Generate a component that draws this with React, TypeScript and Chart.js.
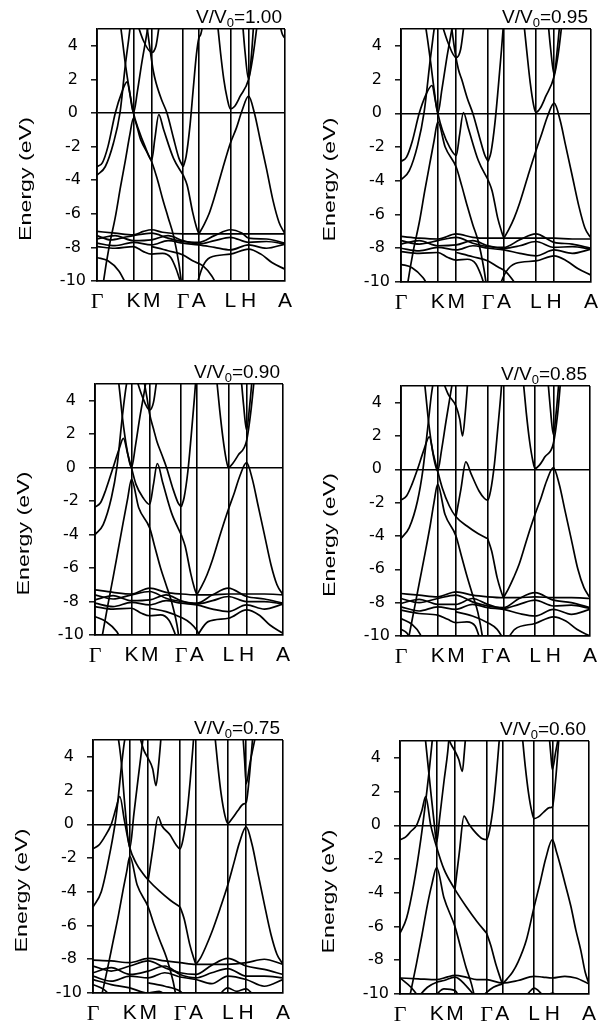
import React, { useEffect, useRef } from 'react';
import { Chart, registerables } from 'chart.js';
Chart.register(...registerables);

const K_POINTS = [0, 0.667, 1.0, 1.577, 1.863, 2.44, 2.773, 3.44];
const K_LABELS = ['Γ', 'K', 'M', 'Γ', 'A', 'L', 'H', 'A'];
const Y_TICKS = [-10, -8, -6, -4, -2, 0, 2, 4];
const RATIOS = ['1.00', '0.95', '0.90', '0.85', '0.75', '0.60'];

// each band: list of [k, E(eV)]
const bands100 = [
  [[0,-3.2],[0.1,-2.95],[0.2,-2.0],[0.335,0],[0.45,1.2],[0.55,1.85],[0.61,1.0],[0.667,0],[0.75,-0.9],[0.88,-2.0],[1.0,-2.8],[1.06,-1.5],[1.13,-0.1],[1.22,-1.0],[1.4,-2.7],[1.577,-3.7]],
  [[0,-3.7],[0.15,-3.2],[0.3,-1.8],[0.42,0],[0.52,2.9],[0.58,4.4],[0.62,5.5]],
  [[0.42,5.5],[0.47,4.2],[0.52,2.9],[0.6,1.2],[0.667,0],[0.74,1.3],[0.82,3.0],[0.9,4.5],[0.95,5.5]],
  [[0.08,-11],[0.12,-10],[0.22,-8.0],[0.335,-6.2],[0.43,-4.4],[0.52,-2.8],[0.6,-1.3],[0.667,-0.3],[0.8,-1.6],[1.0,-2.9],[1.1,-3.9],[1.2,-5.1],[1.3,-6.2],[1.4,-7.3],[1.5,-9.0],[1.56,-10.5]],
  [[0.9,5.5],[0.97,3.8],[1.03,2.5],[1.08,1.8],[1.18,0.8],[1.28,0],[1.4,-1.5],[1.5,-2.7],[1.577,-3.2]],
  [[0.72,5.5],[0.85,4.3],[1.0,3.6],[1.08,4.0],[1.15,5.5]],
  [[1.577,-3.2],[1.63,-2.6],[1.7,-0.8],[1.76,1.4],[1.82,3.5],[1.863,4.45],[1.9,4.7],[1.95,5.5]],
  [[3.33,5.5],[3.39,4.7],[3.44,4.45]],
  [[1.577,-3.7],[1.65,-4.3],[1.75,-5.9],[1.82,-6.8],[1.863,-7.2]],
  [[1.863,-7.2],[1.95,-6.7],[2.05,-6.0],[2.15,-5.0],[2.3,-3.3],[2.44,-1.8],[2.55,-0.9],[2.65,0.1],[2.773,1.0],[2.88,0],[2.98,-1.5],[3.1,-3.3],[3.22,-5.2],[3.33,-6.5],[3.44,-7.2]],
  [[2.2,5.5],[2.26,3.6],[2.32,2.0],[2.38,0.9],[2.44,0.25],[2.52,0.4],[2.62,1.0],[2.773,2.0],[2.85,3.3],[2.94,5.5]],
  [[2.66,5.5],[2.71,3.6],[2.773,2.0],[2.83,3.6],[2.87,5.5]],
  [[0,-7.05],[0.33,-7.15],[0.667,-7.25],[0.85,-7.05],[1.0,-6.95],[1.2,-7.1],[1.577,-7.2],[1.863,-7.2],[2.44,-7.2],[2.773,-7.2],[3.44,-7.2]],
  [[0,-7.3],[0.25,-7.55],[0.5,-7.4],[0.667,-7.3],[1.0,-7.15],[1.3,-7.45],[1.577,-7.65],[1.863,-7.7],[2.15,-7.3],[2.44,-6.95],[2.65,-7.15],[2.773,-7.45],[3.1,-7.5],[3.44,-7.75]],
  [[0,-7.5],[0.33,-7.3],[0.667,-7.6],[1.0,-7.55],[1.3,-7.3],[1.577,-7.6],[1.863,-7.8],[2.15,-7.6],[2.44,-7.4],[2.773,-7.7],[3.1,-7.65],[3.44,-7.8]],
  [[0,-7.75],[0.33,-7.9],[0.667,-7.7],[1.0,-7.85],[1.3,-7.6],[1.577,-7.75],[1.863,-7.85],[2.15,-8.0],[2.44,-8.15],[2.773,-7.85],[3.1,-8.05],[3.44,-7.8]],
  [[0,-7.95],[0.33,-8.05],[0.667,-7.95],[0.85,-8.25],[1.0,-8.4],[1.2,-8.35],[1.35,-8.6],[1.45,-9.3],[1.55,-10.3]],
  [[0,-8.6],[0.2,-8.8],[0.4,-9.4],[0.55,-10.3]],
  [[1.0,-7.95],[1.3,-8.2],[1.577,-8.45],[1.75,-8.8],[1.94,-9.1],[2.1,-9.7],[2.2,-10.3]],
  [[1.8,-10.5],[1.94,-9.1],[2.07,-8.6],[2.44,-8.4],[2.773,-8.1],[3.0,-8.4],[3.2,-8.9],[3.44,-9.3]],
];

const bands095 = [
  [[0,-2.85],[0.1,-2.6],[0.2,-1.7],[0.33,0],[0.45,1.1],[0.56,1.65],[0.62,0.8],[0.667,0],[0.75,-1.0],[0.88,-2.0],[1.0,-2.5],[1.06,-1.3],[1.13,0.05],[1.22,-0.9],[1.4,-2.8],[1.577,-3.95]],
  [[0,-3.95],[0.15,-3.4],[0.3,-1.9],[0.42,0.1],[0.53,3.2],[0.58,4.5],[0.62,5.5]],
  [[0.43,5.5],[0.48,4.4],[0.53,3.2],[0.6,1.4],[0.667,0],[0.74,1.4],[0.82,3.1],[0.9,4.6],[0.95,5.5]],
  [[0.08,-11],[0.12,-10.1],[0.22,-8.2],[0.335,-6.4],[0.43,-4.6],[0.52,-3.0],[0.6,-1.6],[0.667,-0.5],[0.8,-2.0],[1.0,-3.2],[1.1,-4.3],[1.2,-5.5],[1.3,-6.6],[1.4,-7.6],[1.5,-9.2],[1.56,-10.5]],
  [[0.9,5.5],[0.98,3.6],[1.04,2.6],[1.1,2.0],[1.2,0.9],[1.3,0],[1.42,-1.4],[1.52,-2.5],[1.577,-2.85]],
  [[0.72,5.5],[0.85,4.2],[1.0,3.3],[1.08,3.8],[1.15,5.5]],
  [[1.577,-2.85],[1.63,-2.3],[1.7,-0.6],[1.76,1.5],[1.82,3.8],[1.86,5.5]],
  [[1.577,-3.95],[1.65,-4.6],[1.75,-6.2],[1.82,-7.0],[1.863,-7.4]],
  [[1.863,-7.4],[1.95,-6.9],[2.05,-6.2],[2.15,-5.3],[2.3,-3.7],[2.44,-2.25],[2.55,-1.2],[2.65,-0.2],[2.773,0.6],[2.88,-0.4],[2.98,-1.9],[3.1,-3.7],[3.22,-5.5],[3.33,-6.8],[3.44,-7.4]],
  [[2.22,5.5],[2.28,3.6],[2.34,1.8],[2.4,0.5],[2.44,0.05],[2.52,0.3],[2.62,1.0],[2.773,2.2],[2.85,3.6],[2.92,5.5]],
  [[2.66,5.5],[2.71,3.8],[2.773,2.3],[2.83,3.8],[2.88,5.5]],
  [[0,-7.3],[0.33,-7.4],[0.667,-7.45],[1.0,-7.15],[1.3,-7.35],[1.577,-7.4],[1.863,-7.4],[2.15,-7.4],[2.44,-7.4],[2.773,-7.4],[3.1,-7.45],[3.44,-7.45]],
  [[0,-7.55],[0.33,-7.75],[0.667,-7.55],[1.0,-7.35],[1.3,-7.7],[1.577,-7.9],[1.863,-7.95],[2.15,-7.5],[2.44,-7.15],[2.773,-7.65],[3.1,-7.75],[3.44,-8.0]],
  [[0,-7.75],[0.33,-7.55],[0.667,-7.85],[1.0,-7.8],[1.3,-7.55],[1.577,-7.85],[1.863,-8.0],[2.15,-7.85],[2.44,-7.6],[2.773,-7.95],[3.1,-7.9],[3.44,-8.05]],
  [[0,-8.0],[0.33,-8.15],[0.667,-7.95],[1.0,-8.1],[1.3,-7.85],[1.577,-8.0],[1.863,-8.1],[2.15,-8.3],[2.44,-8.45],[2.773,-8.1],[3.1,-8.3],[3.44,-8.05]],
  [[0,-8.2],[0.33,-8.3],[0.667,-8.25],[0.85,-8.55],[1.0,-8.7],[1.2,-8.65],[1.35,-8.9],[1.45,-9.6],[1.52,-10.3]],
  [[0,-8.95],[0.2,-9.15],[0.4,-9.75],[0.5,-10.3]],
  [[1.0,-8.25],[1.3,-8.5],[1.577,-8.75],[1.75,-9.1],[1.9,-9.4],[2.05,-10.0],[2.15,-10.5]],
  [[1.75,-10.5],[1.9,-9.4],[2.07,-8.9],[2.44,-8.75],[2.773,-8.45],[3.0,-8.75],[3.2,-9.2],[3.44,-9.6]],
];

const bands090 = [
  [[0,-2.35],[0.1,-2.1],[0.2,-1.3],[0.33,0],[0.44,1.1],[0.52,1.75],[0.6,0.8],[0.667,0],[0.75,-1.0],[0.88,-1.8],[1.0,-2.2],[1.07,-1.0],[1.14,0.25],[1.24,-0.9],[1.4,-2.7],[1.577,-4.0]],
  [[0,-4.0],[0.15,-3.4],[0.3,-1.8],[0.4,0],[0.5,3.05],[0.55,4.4],[0.6,5.5]],
  [[0.42,5.5],[0.46,4.3],[0.5,3.05],[0.59,1.0],[0.667,0],[0.74,1.3],[0.82,3.0],[0.9,4.5],[0.95,5.5]],
  [[0.08,-11],[0.13,-10.1],[0.23,-8.3],[0.335,-6.5],[0.43,-4.8],[0.52,-3.2],[0.6,-1.8],[0.667,-0.7],[0.8,-2.4],[1.0,-3.6],[1.1,-4.8],[1.2,-6.0],[1.3,-7.0],[1.4,-8.0],[1.5,-9.4],[1.55,-10.5]],
  [[0.88,5.5],[0.95,4.2],[1.0,3.2],[1.08,2.2],[1.13,1.6],[1.22,0.8],[1.31,0],[1.42,-1.2],[1.52,-2.1],[1.577,-2.35]],
  [[0.74,5.5],[0.86,4.3],[1.0,3.45],[1.07,3.9],[1.14,5.5]],
  [[1.577,-2.35],[1.63,-1.8],[1.7,-0.2],[1.76,1.9],[1.82,4.2],[1.85,5.5]],
  [[1.577,-4.0],[1.65,-4.7],[1.75,-6.3],[1.82,-7.2],[1.863,-7.6]],
  [[1.863,-7.6],[1.95,-7.1],[2.05,-6.4],[2.15,-5.5],[2.3,-3.9],[2.44,-2.5],[2.55,-1.5],[2.65,-0.5],[2.773,0.3],[2.88,-0.7],[2.98,-2.2],[3.1,-4.0],[3.22,-5.8],[3.33,-7.0],[3.44,-7.6]],
  [[2.22,5.5],[2.28,3.5],[2.34,1.8],[2.4,0.5],[2.44,0],[2.52,0.25],[2.62,0.75],[2.773,1.6],[2.85,3.3],[2.92,5.5]],
  [[2.67,5.5],[2.72,3.7],[2.773,2.25],[2.83,3.7],[2.88,5.5]],
  [[0,-7.3],[0.33,-7.45],[0.667,-7.55],[1.0,-7.2],[1.3,-7.45],[1.577,-7.55],[1.863,-7.6],[2.15,-7.6],[2.44,-7.55],[2.773,-7.55],[3.1,-7.55],[3.44,-7.6]],
  [[0,-7.6],[0.33,-7.85],[0.667,-7.6],[1.0,-7.4],[1.3,-7.8],[1.577,-8.0],[1.863,-8.1],[2.15,-7.6],[2.44,-7.2],[2.773,-7.7],[3.1,-7.85],[3.44,-8.1]],
  [[0,-7.9],[0.33,-7.65],[0.667,-7.95],[1.0,-7.9],[1.3,-7.6],[1.577,-7.95],[1.863,-8.15],[2.15,-7.95],[2.44,-7.7],[2.773,-8.0],[3.1,-8.0],[3.44,-8.15]],
  [[0,-8.1],[0.33,-8.3],[0.667,-8.05],[1.0,-8.2],[1.3,-7.95],[1.577,-8.1],[1.863,-8.2],[2.15,-8.45],[2.44,-8.6],[2.773,-8.2],[3.1,-8.45],[3.44,-8.15]],
  [[0,-8.3],[0.33,-8.45],[0.667,-8.4],[0.85,-8.7],[1.0,-8.85],[1.2,-8.8],[1.35,-9.1],[1.45,-9.8],[1.5,-10.3]],
  [[0,-8.9],[0.2,-9.2],[0.4,-9.8],[0.48,-10.3]],
  [[1.0,-8.4],[1.3,-8.6],[1.577,-8.95],[1.75,-9.3],[1.86,-9.7],[1.95,-10.3]],
  [[1.82,-10.4],[1.9,-9.9],[2.07,-9.2],[2.44,-9.0],[2.773,-8.5],[3.0,-8.8],[3.2,-9.4],[3.44,-9.9]],
];

const bands085 = [
  [[0,-1.85],[0.1,-1.6],[0.2,-0.9],[0.3,0],[0.42,1.2],[0.515,1.95],[0.59,0.9],[0.667,-0.1],[0.75,-1.1],[0.88,-2.2],[1.0,-2.85],[1.2,-3.4],[1.4,-3.85],[1.577,-4.15]],
  [[0,-4.15],[0.15,-3.5],[0.3,-1.9],[0.4,0],[0.5,2.9],[0.55,4.4],[0.6,5.5]],
  [[0.42,5.5],[0.46,4.2],[0.5,2.9],[0.59,0.8],[0.667,-0.1],[0.74,1.2],[0.82,2.9],[0.9,4.5],[0.95,5.5]],
  [[0.09,-11],[0.14,-10.1],[0.24,-8.4],[0.34,-6.7],[0.44,-5.0],[0.53,-3.4],[0.6,-2.0],[0.667,-0.9],[0.8,-2.7],[1.0,-4.0],[1.1,-5.2],[1.2,-6.4],[1.3,-7.5],[1.4,-8.6],[1.48,-10],[1.52,-11]],
  [[1.0,-2.85],[1.09,-1.2],[1.18,0.45],[1.28,-0.3],[1.42,-1.3],[1.52,-1.75],[1.577,-1.85],[1.63,-1.3],[1.7,0.3],[1.76,2.4],[1.82,4.6],[1.84,5.5]],
  [[0.74,5.5],[0.86,4.5],[1.0,3.8],[1.07,3.0],[1.12,2.0],[1.17,3.4],[1.22,5.5]],
  [[1.577,-4.15],[1.65,-4.9],[1.75,-6.5],[1.82,-7.3],[1.863,-7.7]],
  [[1.863,-7.7],[1.95,-7.2],[2.05,-6.5],[2.15,-5.7],[2.3,-4.1],[2.44,-2.7],[2.55,-1.7],[2.65,-0.7],[2.773,0.1],[2.88,-0.9],[2.98,-2.4],[3.1,-4.2],[3.22,-6.0],[3.33,-7.1],[3.44,-7.7]],
  [[2.22,5.5],[2.28,3.4],[2.34,1.7],[2.4,0.5],[2.44,0.05],[2.52,0.25],[2.62,0.75],[2.773,1.55],[2.85,3.3],[2.91,5.5]],
  [[2.67,5.5],[2.72,3.6],[2.773,2.1],[2.83,3.6],[2.88,5.5]],
  [[0,-7.45],[0.33,-7.55],[0.667,-7.65],[1.0,-7.35],[1.3,-7.55],[1.577,-7.65],[1.863,-7.7],[2.15,-7.7],[2.44,-7.65],[2.773,-7.7],[3.1,-7.7],[3.44,-7.75]],
  [[0,-7.75],[0.33,-8.0],[0.667,-7.75],[1.0,-7.55],[1.3,-7.95],[1.577,-8.2],[1.863,-8.3],[2.15,-7.75],[2.44,-7.4],[2.773,-7.85],[3.1,-8.0],[3.44,-8.3]],
  [[0,-8.05],[0.33,-7.8],[0.667,-8.1],[1.0,-8.1],[1.3,-7.75],[1.577,-8.1],[1.863,-8.35],[2.15,-8.1],[2.44,-7.85],[2.773,-8.2],[3.1,-8.15],[3.44,-8.35]],
  [[0,-8.25],[0.33,-8.5],[0.667,-8.25],[1.0,-8.4],[1.3,-8.1],[1.577,-8.3],[1.863,-8.4],[2.15,-8.65],[2.44,-8.8],[2.773,-8.4],[3.1,-8.7],[3.44,-8.4]],
  [[0,-8.45],[0.33,-8.65],[0.667,-8.75],[0.85,-9.0],[1.0,-9.2],[1.2,-9.15],[1.35,-9.4],[1.42,-10],[1.47,-10.5]],
  [[0,-8.95],[0.2,-9.3],[0.35,-9.9],[0.42,-10.5]],
  [[0,-9.6],[0.1,-9.8],[0.2,-10.3]],
  [[1.0,-8.55],[1.3,-8.8],[1.577,-9.2],[1.75,-9.6],[1.85,-10.1]],
  [[1.9,-10.4],[2.07,-9.6],[2.44,-9.25],[2.773,-8.85],[3.0,-9.1],[3.2,-9.6],[3.44,-10.0]],
];

const bands075 = [
  [[0,-1.45],[0.1,-1.25],[0.2,-0.8],[0.33,0],[0.42,1.0],[0.485,1.65],[0.57,0.2],[0.667,-1.4],[0.78,-2.3],[0.9,-2.9],[1.0,-3.3],[1.2,-3.95],[1.4,-4.5],[1.577,-4.9]],
  [[0,-4.9],[0.15,-4.0],[0.3,-1.8],[0.42,0.5],[0.52,3.6],[0.56,4.7],[0.6,5.5]],
  [[0.44,5.5],[0.48,4.6],[0.515,3.6],[0.58,1.0],[0.667,-1.4],[0.74,0.6],[0.82,2.8],[0.88,4.4],[0.92,5.5]],
  [[0.1,-11],[0.16,-10.1],[0.26,-8.6],[0.36,-7.0],[0.46,-5.4],[0.55,-3.8],[0.61,-2.8],[0.667,-1.9],[0.8,-3.6],[1.0,-4.9],[1.1,-5.9],[1.2,-6.8],[1.33,-7.9],[1.45,-9.3],[1.52,-10.5]],
  [[1.0,-3.3],[1.09,-1.3],[1.18,0.45],[1.25,-0.1],[1.39,-0.6],[1.5,-1.2],[1.577,-1.45],[1.63,-0.9],[1.7,0.6],[1.76,2.6],[1.81,4.6],[1.83,5.5]],
  [[0.82,5.5],[0.92,4.4],[1.0,3.9],[1.08,3.3],[1.14,2.3],[1.19,3.6],[1.24,5.5]],
  [[1.577,-4.9],[1.65,-5.6],[1.75,-7.1],[1.82,-7.9],[1.863,-8.3]],
  [[1.863,-8.3],[1.95,-7.9],[2.05,-7.2],[2.15,-6.4],[2.3,-5.0],[2.44,-3.6],[2.55,-2.3],[2.65,-1.1],[2.773,-0.15],[2.88,-1.2],[2.98,-2.8],[3.1,-4.7],[3.22,-6.5],[3.33,-7.7],[3.44,-8.3]],
  [[2.2,5.5],[2.26,3.5],[2.32,1.8],[2.39,0.5],[2.44,0.05],[2.52,0.35],[2.62,0.8],[2.72,1.2],[2.773,1.3],[2.83,2.8],[2.9,5.5]],
  [[2.71,5.5],[2.745,3.8],[2.773,2.4],[2.84,3.6],[2.96,5.5]],
  [[0,-8.05],[0.33,-8.1],[0.667,-8.2],[1.0,-7.95],[1.3,-8.1],[1.577,-8.2],[1.863,-8.3],[2.15,-8.3],[2.44,-8.3],[2.773,-8.2],[3.1,-8.0],[3.44,-8.3]],
  [[0,-8.4],[0.33,-8.7],[0.667,-8.4],[1.0,-8.1],[1.3,-8.5],[1.577,-8.8],[1.863,-8.9],[2.15,-8.35],[2.44,-7.95],[2.773,-8.4],[3.1,-8.6],[3.44,-8.9]],
  [[0,-8.8],[0.33,-8.5],[0.667,-8.9],[1.0,-8.7],[1.3,-8.4],[1.577,-8.9],[1.863,-9.1],[2.15,-8.8],[2.44,-8.55],[2.773,-9.0],[3.1,-9.0],[3.44,-9.1]],
  [[0,-9.0],[0.33,-9.3],[0.667,-9.0],[1.0,-9.1],[1.3,-8.8],[1.577,-9.05],[1.863,-9.2],[2.15,-9.45],[2.44,-9.0],[2.773,-9.2],[3.1,-9.6],[3.44,-9.2]],
  [[0,-9.2],[0.33,-9.5],[0.667,-9.7],[0.85,-9.9],[1.0,-10.0],[1.2,-9.9],[1.35,-10.2]],
  [[0,-9.5],[0.2,-9.8],[0.35,-10.3]],
  [[1.0,-9.4],[1.3,-9.6],[1.577,-9.9],[1.7,-10.3]],
  [[2.2,-10.5],[2.44,-9.7],[2.6,-9.9],[2.773,-9.75],[2.9,-10.1]],
];

const bands060 = [
  [[0,-0.85],[0.1,-0.7],[0.2,-0.35],[0.3,0],[0.4,0.9],[0.467,1.7],[0.56,0],[0.667,-1.3],[0.8,-2.6],[1.0,-3.8],[1.2,-4.8],[1.4,-5.7],[1.577,-6.4]],
  [[0,-6.4],[0.12,-5.5],[0.25,-3.5],[0.38,-0.8],[0.47,1.5],[0.53,3.2],[0.58,4.8],[0.6,5.5]],
  [[0.45,5.5],[0.5,3.9],[0.56,2.0],[0.62,0.2],[0.667,-1.0],[0.72,0.4],[0.8,2.6],[0.87,4.4],[0.9,5.5]],
  [[0.12,-11],[0.2,-9.8],[0.3,-8.2],[0.4,-6.5],[0.5,-4.7],[0.58,-3.5],[0.667,-2.5],[0.8,-4.3],[1.0,-6.0],[1.1,-7.2],[1.2,-8.4],[1.3,-9.4],[1.38,-10.5]],
  [[1.0,-3.8],[1.08,-1.6],[1.165,0.55],[1.25,0.1],[1.38,-0.45],[1.5,-0.8],[1.577,-0.85],[1.63,-0.3],[1.7,1.2],[1.76,3.2],[1.8,4.8],[1.82,5.5]],
  [[0.84,5.5],[0.93,4.8],[1.0,4.4],[1.07,3.9],[1.135,3.2],[1.17,4.3],[1.2,5.5]],
  [[1.577,-6.4],[1.65,-7.1],[1.75,-8.3],[1.82,-9.0],[1.863,-9.4]],
  [[1.863,-9.4],[1.95,-9.1],[2.05,-8.7],[2.15,-8.1],[2.3,-6.8],[2.44,-4.85],[2.55,-3.4],[2.65,-2.0],[2.773,-0.85],[2.85,-1.6],[2.92,-2.4],[3.0,-3.4],[3.11,-4.8],[3.2,-6.2],[3.29,-7.4],[3.37,-8.7],[3.44,-9.4]],
  [[2.22,5.5],[2.28,3.5],[2.34,1.9],[2.4,0.8],[2.44,0.4],[2.52,0.5],[2.62,0.8],[2.72,1.05],[2.773,1.1],[2.83,2.6],[2.9,5.5]],
  [[2.71,5.5],[2.745,4.2],[2.773,3.3],[2.83,4.3],[2.9,5.5]],
  [[0,-9.05],[0.33,-9.1],[0.667,-9.15],[0.85,-9.0],[1.0,-8.9],[1.2,-9.0],[1.4,-9.15],[1.577,-9.15],[1.863,-9.35],[2.15,-9.2],[2.44,-8.95],[2.6,-9.0],[2.773,-9.05],[3.0,-8.95],[3.2,-9.05],[3.44,-9.4]],
  [[0,-9.05],[0.2,-9.6],[0.33,-10.1],[0.45,-10.3]],
  [[0.3,-10.3],[0.5,-9.6],[0.667,-9.3],[0.8,-9.2],[1.0,-9.0],[1.2,-9.5],[1.33,-10.0],[1.4,-10.3]],
  [[0.55,-10.3],[0.667,-10.0],[0.8,-9.7],[1.0,-9.8],[1.1,-10.3]],
  [[1.45,-10.3],[1.577,-9.9],[1.7,-9.6],[1.863,-9.4]],
  [[2.25,-10.3],[2.35,-9.9],[2.44,-9.65],[2.55,-9.9],[2.65,-10.3]],
  [[2.6,-10.3],[2.773,-9.95],[2.95,-10.3]],
];

const ALL_BANDS = [bands100, bands095, bands090, bands085, bands075, bands060];

const LAYOUT = [
  { x0: 0, left: 97, right: 285, top: 29, bottom: 281 },
  { x0: 304, left: 401, right: 591, top: 29, bottom: 282 },
  { x0: 0, left: 95, right: 283, top: 384, bottom: 635 },
  { x0: 304, left: 401, right: 590, top: 386, bottom: 636 },
  { x0: 0, left: 93, right: 283, top: 740, bottom: 993 },
  { x0: 304, left: 400, right: 589, top: 741, bottom: 994 },
];

const SANS = '"Liberation Sans", Arial, Helvetica, sans-serif';

function Panel({ ratio, bands, box }: any) {
  const ref = useRef<HTMLCanvasElement>(null);
  const W = 304;
  const cTop = box.top - 30;
  const H = box.bottom - box.top + 70;

  useEffect(() => {
    const textPlugin = {
      id: 'panelText',
      afterDraw(chart: any) {
        const { ctx, chartArea: a } = chart;
        ctx.save();
        ctx.fillStyle = '#000';
        const big = '19px ' + SANS;
        const small = '13px ' + SANS;
        ctx.font = big;
        const w1 = ctx.measureText('V/V').width;
        const w3 = ctx.measureText('=' + ratio).width;
        ctx.font = small;
        const w2 = ctx.measureText('0').width;
        let x = a.right - 3 - (w1 + w2 + w3);
        const y = a.top - 6;
        ctx.textAlign = 'left';
        ctx.textBaseline = 'alphabetic';
        ctx.font = big;
        ctx.fillText('V/V', x, y);
        x += w1;
        ctx.font = small;
        ctx.fillText('0', x, y + 4);
        x += w2;
        ctx.font = big;
        ctx.fillText('=' + ratio, x, y);
        ctx.translate(a.left - 70, (a.top + a.bottom) / 2 + 24);
        ctx.rotate(-Math.PI / 2);
        ctx.scale(1.45, 1);
        ctx.font = '16px ' + SANS;
        ctx.textAlign = 'center';
        ctx.textBaseline = 'middle';
        ctx.fillText('Energy (eV)', 0, 0);
        ctx.restore();
      },
    };

    const chart = new Chart(ref.current as HTMLCanvasElement, {
      type: 'line',
      data: {
        datasets: bands.map((b: number[][]) => ({
          data: b.map(([x, y]) => ({ x, y })),
          borderColor: '#000',
          borderWidth: 1.7,
          pointRadius: 0,
          fill: false,
          cubicInterpolationMode: 'monotone',
        })),
      },
      options: {
        responsive: false,
        maintainAspectRatio: false,
        animation: false,
        events: [],
        layout: { padding: { top: 30, left: 0, bottom: 0, right: box.x0 + W - box.right } },
        plugins: { legend: { display: false }, tooltip: { enabled: false }, title: { display: false } },
        scales: {
          x: {
            type: 'linear',
            min: 0,
            max: 3.44,
            afterBuildTicks: (ax: any) => { ax.ticks = K_POINTS.map((v) => ({ value: v })); },
            afterFit: (ax: any) => { ax.height = 40; },
            grid: { color: '#000', lineWidth: 1.6, drawTicks: false },
            border: { display: true, color: '#000', width: 1.8 },
            ticks: {
              autoSkip: false,
              maxRotation: 0,
              padding: 8,
              color: '#000',
              font: (c: any) => (c.index === 0 || c.index === 3
                ? { family: '"Liberation Serif", "Times New Roman", serif', size: 22 }
                : { family: SANS, size: 21 }),
              callback: (_v: any, i: number) => K_LABELS[i],
            },
          },
          y: {
            type: 'linear',
            min: -10,
            max: 5,
            afterBuildTicks: (ax: any) => { ax.ticks = [...Y_TICKS, 5].map((v) => ({ value: v })); },
            afterFit: (ax: any) => { ax.width = box.left - box.x0; },
            grid: {
              color: (c: any) => (c.tick && (c.tick.value === 0 || c.tick.value === 5) ? '#000' : 'rgba(0,0,0,0)'),
              lineWidth: 1.6,
              drawTicks: true,
              tickLength: 6,
              tickWidth: 1.4,
              tickColor: (c: any) => (c.tick && c.tick.value === 5 ? 'rgba(0,0,0,0)' : '#000'),
            },
            border: { display: true, color: '#000', width: 1.8 },
            ticks: {
              crossAlign: 'center',
              padding: 5,
              color: '#000',
              font: { family: '"DejaVu Sans", sans-serif', size: 16 },
              callback: (v: any) => (v === 5 ? '' : String(v)),
            },
          },
        },
      },
      plugins: [textPlugin],
    } as any);
    return () => chart.destroy();
  }, [ratio, bands, box]);

  return (
    <canvas
      ref={ref}
      width={W}
      height={H}
      style={{ position: 'absolute', left: box.x0, top: cTop, width: W, height: H }}
    />
  );
}

export default function App() {
  return (
    <div style={{ position: 'absolute', left: 0, top: 0, width: 608, height: 1034, background: '#fff', overflow: 'hidden' }}>
      {RATIOS.map((r, i) => (
        <Panel key={r} ratio={r} bands={ALL_BANDS[i]} box={LAYOUT[i]} />
      ))}
    </div>
  );
}
